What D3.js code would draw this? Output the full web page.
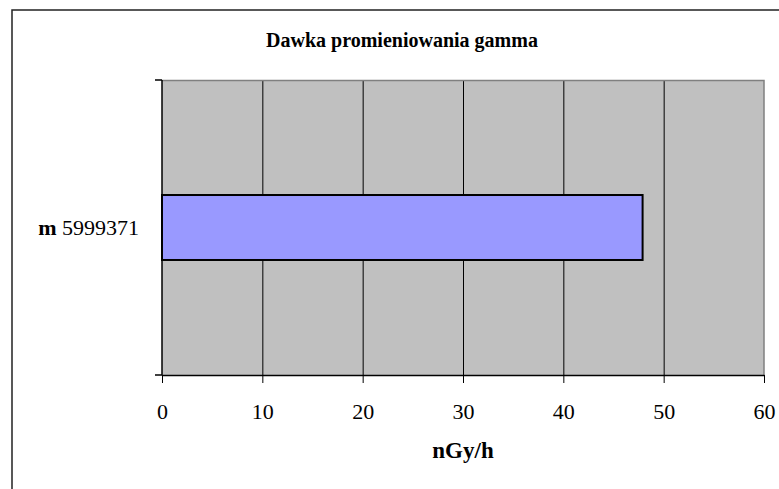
<!DOCTYPE html>
<meta charset="utf-8">
<html>

<head>
    <title>Dawka promieniowania gamma</title>
    <style>
        body { margin: 0; background: #fff; }
        text { font-family: "Liberation Serif", "Times New Roman", serif; fill: #000; }
    </style>
</head>

<body>
    <div id="container"></div>

    <script src="https://d3js.org/d3.v7.min.js"></script>

    <script>
        // chart data
        const title = "Dawka promieniowania gamma";
        const categoryPrefix = ["m"];
        const categories = ["5999371"];
        const values = [47.9];
        const xTicks = [0, 10, 20, 30, 40, 50, 60];
        const xTitle = "nGy/h";

        const width = 779,
            height = 489;

        // plot area (matches the excel-like layout)
        const plot = { left: 162, top: 80, right: 764, bottom: 375 };

        const svg = d3.select("#container").append("svg")
            .attr("width", width)
            .attr("height", height);

        // outer chart frame, only top and left visible
        svg.append("path")
            .attr("d", `M12,${height} L12,10 L${width},10`)
            .attr("fill", "none")
            .attr("stroke", "#222")
            .attr("stroke-width", 1.5);

        const x = d3.scaleLinear()
            .domain([0, 60])
            .range([plot.left, plot.right]);

        // single band: bar about 65px high, centred in the plot
        const y = d3.scaleBand()
            .domain(categories)
            .range([plot.top, plot.bottom])
            .paddingInner(0)
            .paddingOuter(1.77);

        // plot background
        svg.append("rect")
            .attr("x", plot.left)
            .attr("y", plot.top)
            .attr("width", plot.right - plot.left)
            .attr("height", plot.bottom - plot.top)
            .attr("fill", "#c0c0c0");

        // gridlines
        svg.append("g")
            .selectAll("line")
            .data(xTicks.filter(d => d > 0 && d < 60))
            .join("line")
            .attr("x1", d => x(d) + 0.5)
            .attr("x2", d => x(d) + 0.5)
            .attr("y1", plot.top)
            .attr("y2", plot.bottom)
            .attr("stroke", "#000")
            .attr("stroke-width", 1);

        // top and right border of plot area (grey)
        svg.append("path")
            .attr("d", `M${plot.left},${plot.top + 0.5} L${plot.right},${plot.top + 0.5} L${plot.right},${plot.bottom}`)
            .attr("fill", "none")
            .attr("stroke", "#808080")
            .attr("stroke-width", 1.5);

        // bar
        svg.append("g")
            .selectAll("rect")
            .data(values)
            .join("rect")
            .attr("x", x(0))
            .attr("y", (d, i) => y(categories[i]))
            .attr("width", d => x(d) - x(0))
            .attr("height", y.bandwidth())
            .attr("fill", "#9999ff")
            .attr("stroke", "#000")
            .attr("stroke-width", 2);

        // x axis
        const xAxis = svg.append("g")
            .attr("transform", `translate(0,${plot.bottom})`)
            .call(d3.axisBottom(x).tickValues(xTicks).tickSize(8).tickPadding(20).tickSizeOuter(0));
        xAxis.select(".domain").attr("stroke", "#000").attr("stroke-width", 1.5);
        xAxis.selectAll(".tick line").attr("stroke", "#000");
        xAxis.selectAll(".tick text")
            .attr("font-family", "Liberation Serif")
            .attr("font-size", 22);

        // y axis line with tick marks at band boundaries
        svg.append("line")
            .attr("x1", plot.left)
            .attr("x2", plot.left)
            .attr("y1", plot.top)
            .attr("y2", plot.bottom)
            .attr("stroke", "#000")
            .attr("stroke-width", 1.5);
        svg.append("g")
            .selectAll("line")
            .data([plot.top, plot.bottom])
            .join("line")
            .attr("x1", plot.left - 7)
            .attr("x2", plot.left)
            .attr("y1", d => d)
            .attr("y2", d => d)
            .attr("stroke", "#000")
            .attr("stroke-width", 1.5);

        // category labels
        const catLabel = svg.append("g")
            .selectAll("text")
            .data(categories)
            .join("text")
            .attr("x", 139)
            .attr("y", d => y(d) + y.bandwidth() / 2)
            .attr("dy", "0.35em")
            .attr("text-anchor", "end")
            .attr("font-size", 22);
        catLabel.append("tspan")
            .attr("font-weight", "bold")
            .text((d, i) => categoryPrefix[i]);
        catLabel.append("tspan")
            .text(d => " " + d);

        // titles
        svg.append("text")
            .attr("x", 402)
            .attr("y", 47)
            .attr("text-anchor", "middle")
            .attr("font-weight", "bold")
            .attr("font-size", 20)
            .text(title);

        svg.append("text")
            .attr("x", x(30))
            .attr("y", 458)
            .attr("text-anchor", "middle")
            .attr("font-weight", "bold")
            .attr("font-size", 23)
            .text(xTitle);
    </script>
</body>

</html>
